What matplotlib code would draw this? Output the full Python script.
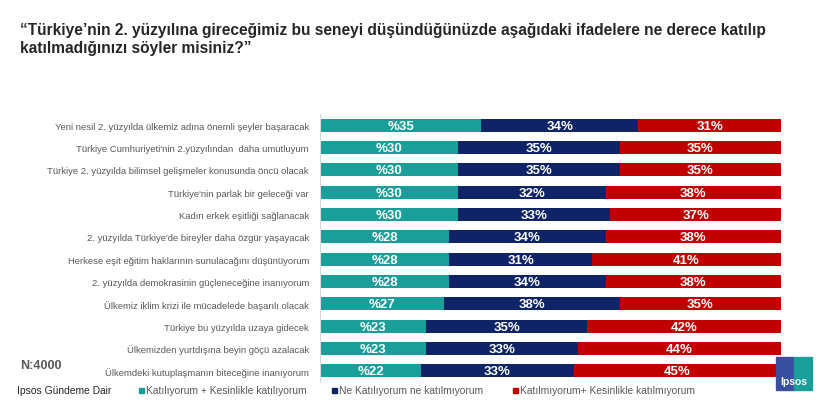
import matplotlib
matplotlib.use("Agg")
import matplotlib.pyplot as plt
from matplotlib.patches import Rectangle
import numpy as np

plt.rcParams['font.family'] = ['Liberation Sans', 'DejaVu Sans']

categories = [
    "Yeni nesil 2. yüzyılda ülkemiz adına önemli şeyler başaracak",
    "Türkiye Cumhuriyeti'nin 2.yüzyılından  daha umutluyum",
    "Türkiye 2. yüzyılda bilimsel gelişmeler konusunda öncü olacak",
    "Türkiye'nin parlak bir geleceği var",
    "Kadın erkek eşitliği sağlanacak",
    "2. yüzyılda Türkiye'de bireyler daha özgür yaşayacak",
    "Herkese eşit eğitim haklarının sunulacağını düşünüyorum",
    "2. yüzyılda demokrasinin güçleneceğine inanıyorum",
    "Ülkemiz iklim krizi ile mücadelede başarılı olacak",
    "Türkiye bu yüzyılda uzaya gidecek",
    "Ülkemizden yurtdışına beyin göçü azalacak",
    "Ülkemdeki kutuplaşmanın biteceğine inanıyorum",
]
agree = [35, 30, 30, 30, 30, 28, 28, 28, 27, 23, 23, 22]
neutral = [34, 35, 35, 32, 33, 34, 31, 34, 38, 35, 33, 33]
disagree = [31, 35, 35, 38, 37, 38, 41, 38, 35, 42, 44, 45]
series_names = ["Katılıyorum + Kesinlikle katılıyorum",
                "Ne Katılıyorum ne katılmıyorum",
                "Katılmıyorum+ Kesinlikle katılmıyorum"]
colors = ["#1A9E9A", "#0E2466", "#C00000"]

W, H = 820, 406
fig = plt.figure(figsize=(W / 100, H / 100), dpi=100)
ax = fig.add_axes([320 / W, 1 - 383 / H, 461 / W, (383 - 115) / H])

y = np.arange(len(categories))
left = np.zeros(len(categories))
for vals, col, name, fmt in zip([agree, neutral, disagree], colors, series_names,
                                 ["%{}", "{}%", "{}%"]):
    vals = np.array(vals, dtype=float)
    ax.barh(y, vals, left=left, height=0.57, color=col, edgecolor="none")
    for yi, l, v in zip(y, left, vals):
        ax.text(l + v / 2, yi + 0.02, fmt.format(int(v)), ha="center", va="center",
                color="white", fontsize=9.5, fontweight="bold")
    left += vals

ax.set_ylim(len(categories) - 0.5, -0.5)
ax.set_xlim(0, 100)
ax.set_yticks(y)
ax.set_yticklabels(categories, fontsize=6.8, color="#595959")
ax.tick_params(axis="y", length=0, pad=8)
ax.set_xticks([])
for s in ["top", "right", "bottom"]:
    ax.spines[s].set_visible(False)
ax.spines["left"].set_color("#D9D9D9")
ax.spines["left"].set_linewidth(0.8)

fig.text(20 / W, 1 - 31 / H,
         "“Türkiye’nin 2. yüzyılına gireceğimiz bu seneyi düşündüğünüzde aşağıdaki ifadelere ne derece katılıp",
         fontsize=11.2, fontweight="bold", color="#262626", va="center", ha="left")
fig.text(20 / W, 1 - 49 / H, "katılmadığınızı söyler misiniz?”",
         fontsize=11.2, fontweight="bold", color="#262626", va="center", ha="left")

fig.text(20 / W, 1 - 366 / H, "N:4000", fontsize=9, fontweight="bold",
         color="#595959", va="center", ha="left")
fig.text(17 / W, 1 - 391 / H, "Ipsos Gündeme Dair", fontsize=7.4,
         color="#262626", va="center", ha="left")

# legend
leg_x = [139, 332, 513]
for lx, col, name in zip(leg_x, colors, series_names):
    fig.patches.append(Rectangle((lx / W, 1 - 394 / H), 5 / W, 5 / H,
                                 transform=fig.transFigure, color=col))
    fig.text((lx + 7) / W, 1 - 391.5 / H, name, fontsize=7.4, color="#595959",
             va="center", ha="left")

# Ipsos logo
fig.patches.append(Rectangle((776 / W, 1 - 391 / H), 18 / W, 33 / H,
                             transform=fig.transFigure, color="#3A4FA0"))
fig.patches.append(Rectangle((794 / W, 1 - 391 / H), 18 / W, 33 / H,
                             transform=fig.transFigure, color="#1A9E9A"))
fig.text(794 / W, 1 - 382 / H, "Ipsos", fontsize=7.5, fontweight="bold",
         color="white", ha="center", va="center")

fig.savefig("out.png", dpi=100)
